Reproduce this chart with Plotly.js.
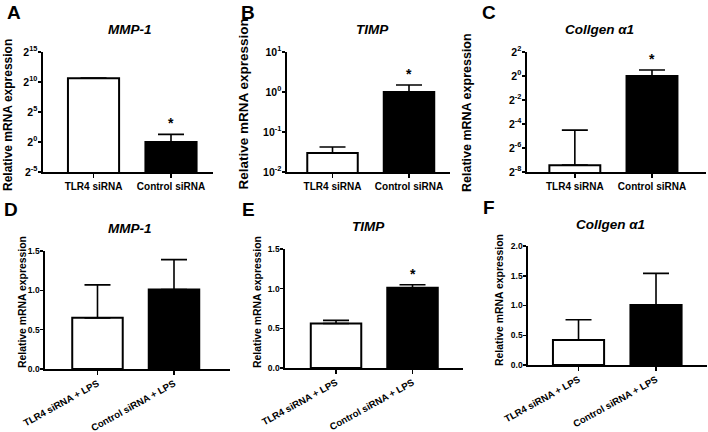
<!DOCTYPE html>
<html>
<head>
<meta charset="utf-8">
<script src="https://cdn.plot.ly/plotly-3.0.1.min.js"></script>
<style>html,body{margin:0;padding:0;background:#fff;}#chart{width:708px;height:432px;}</style>
</head>
<body>
<div id="chart"></div>
<script>
// ---- data ----
const catsTop = ['TLR4 siRNA', 'Control siRNA'];
const catsBottom = ['TLR4 siRNA + LPS', 'Control siRNA + LPS'];
const barColors = ['white', 'black'];

const mmp1Si = [1600, 1.0];
const mmp1SiErr = [0, 1.4];
const timpSi = [0.03, 1.0];
const timpSiErr = [0.012, 0.5];
const colSi = [0.0058, 1.0];
const colSiErr = [0.038, 0.41];

const mmp1Lps = [0.65, 1.01];
const mmp1LpsErr = [0.42, 0.38];
const timpLps = [0.56, 1.01];
const timpLpsErr = [0.04, 0.04];
const colLps = [0.42, 1.01];
const colLpsErr = [0.34, 0.53];

const starsA = ['', '*'];
const starsB = ['', '*'];
const starsC = ['', '*'];
const starsD = ['', ''];
const starsE = ['', '*'];
const starsF = ['', ''];

const expA = [-5, 0, 5, 10, 15];
const expB = [-2, -1, 0, 1];
const expC = [-8, -6, -4, -2, 0, 2];
const linTicks = [0, 0.5, 1.0, 1.5];
const linTicksF = [0, 0.5, 1.0, 1.5, 2.0];

const titles = ['MMP-1', 'TIMP', 'Collgen α1', 'MMP-1', 'TIMP', 'Collgen α1'];
const letters = ['A', 'B', 'C', 'D', 'E', 'F'];
const yTitle = 'Relative mRNA expression';

// ---- layout helpers ----
const W = 708, H = 432;
const px = v => v / W;
const py = v => 1 - v / H;
const FONT = 'Liberation Sans, Arial, sans-serif';

const panels = [
  {x: catsTop, y: mmp1Si, e: mmp1SiErr, stars: starsA, log: true, dom: [43, 213, 52, 172], xr: [-0.652, 1.542],
   yr: [Math.log10(Math.pow(2, -5)), Math.log10(Math.pow(2, 15))],
   tv: expA.map(e => Math.pow(2, e)), tt: expA.map(e => '2<sup>' + e + '</sup>'),
   tf: 10.5, xf: 10, angle: 0, ytx: 8, yty: 115, ytf: 12, tix: 130, tiy: 29, lx: 14, ly: 12},
  {x: catsTop, y: timpSi, e: timpSiErr, stars: starsB, log: true, dom: [287, 450, 52, 172], xr: [-0.595, 1.536],
   yr: [-2, 1],
   tv: expB.map(e => Math.pow(10, e)), tt: expB.map(e => '10<sup>' + e + '</sup>'),
   tf: 10.5, xf: 10, angle: 0, ytx: 243.5, yty: 104, ytf: 13.5, tix: 372, tiy: 29, lx: 248, ly: 12},
  {x: catsTop, y: colSi, e: colSiErr, stars: starsC, log: true, dom: [527, 706, 52, 172], xr: [-0.62, 1.70],
   yr: [Math.log10(Math.pow(2, -8)), Math.log10(Math.pow(2, 2))],
   tv: expC.map(e => Math.pow(2, e)), tt: expC.map(e => '2<sup>' + e + '</sup>'),
   tf: 10.5, xf: 10, angle: 0, ytx: 467, yty: 112, ytf: 12.5, tix: 599, tiy: 29, lx: 489, ly: 13},
  {x: catsBottom, y: mmp1Lps, e: mmp1LpsErr, stars: starsD, log: false, dom: [45, 230, 251, 369], xr: [-0.686, 1.732],
   yr: [0, 1.5], tv: linTicks, tt: linTicks.map(v => v.toFixed(1)),
   tf: 8.5, xf: 9.6, angle: -29, ytx: 22, yty: 302, ytf: 10.4, tix: 130, tiy: 228, lx: 11, ly: 209},
  {x: catsBottom, y: timpLps, e: timpLpsErr, stars: starsE, log: false, dom: [285, 463, 249, 368], xr: [-0.667, 1.66],
   yr: [0, 1.5], tv: linTicks, tt: linTicks.map(v => v.toFixed(1)),
   tf: 8.5, xf: 9.6, angle: -29, ytx: 257, yty: 302, ytf: 10.4, tix: 368, tiy: 227, lx: 248, ly: 209},
  {x: catsBottom, y: colLps, e: colLpsErr, stars: starsF, log: false, dom: [528, 707, 246, 365], xr: [-0.652, 1.658],
   yr: [0, 2.0], tv: linTicksF, tt: linTicksF.map(v => v.toFixed(1)),
   tf: 8.5, xf: 9.6, angle: -29, ytx: 499, yty: 300, ytf: 10.4, tix: 610, tiy: 224, lx: 489, ly: 208}
];

const data = [];
const layout = {
  width: W, height: H, margin: {l: 0, r: 0, t: 0, b: 0},
  paper_bgcolor: 'white', plot_bgcolor: 'white', showlegend: false,
  font: {family: FONT, color: 'black'},
  annotations: [], bargap: 0
};

panels.forEach((p, i) => {
  const n = i + 1;
  const xa = 'x' + (n === 1 ? '' : n), ya = 'y' + (n === 1 ? '' : n);
  const xk = 'xaxis' + (n === 1 ? '' : n), yk = 'yaxis' + (n === 1 ? '' : n);
  data.push({
    type: 'bar', x: p.x, y: p.y, xaxis: xa, yaxis: ya, width: 0.66,
    marker: {color: barColors, line: {color: 'black', width: 2}},
    error_y: {type: 'data', symmetric: false, array: p.e, arrayminus: p.x.map(() => 0),
              color: 'black', thickness: 1.6, width: 13},
    hoverinfo: 'none'
  });
  layout[xk] = {
    domain: [px(p.dom[0]), px(p.dom[1])], anchor: ya, type: 'category', range: p.xr,
    showline: true, linecolor: 'black', linewidth: 1.6, ticks: 'outside', ticklen: 4, tickwidth: 1.5,
    tickcolor: 'black', showgrid: false, zeroline: false, tickangle: p.angle,
    tickfont: {family: FONT, size: p.xf, weight: 'bold', color: 'black'}, fixedrange: true
  };
  layout[yk] = {
    domain: [py(p.dom[3]), py(p.dom[2])], anchor: xa, type: p.log ? 'log' : 'linear', range: p.yr,
    showline: true, linecolor: 'black', linewidth: 1.6, ticks: 'outside', ticklen: 3, tickwidth: 1.5,
    tickcolor: 'black', showgrid: false, zeroline: false, ticklabelstandoff: -1,
    tickmode: 'array', tickvals: p.tv, ticktext: p.tt,
    tickfont: {family: FONT, size: p.tf, weight: 'bold', color: 'black'}, fixedrange: true
  };
  // significance stars
  p.stars.forEach((s, j) => {
    if (!s) return;
    const top = p.y[j] + p.e[j];
    layout.annotations.push({
      xref: xa, yref: ya, x: p.x[j], y: p.log ? Math.log10(top) : top,
      text: s, showarrow: false, yanchor: 'bottom', yshift: 1,
      font: {family: FONT, size: 14, weight: 'bold', color: 'black'}
    });
  });
  // panel title
  layout.annotations.push({
    xref: 'paper', yref: 'paper', x: px(p.tix), y: py(p.tiy), xanchor: 'center', yanchor: 'middle',
    text: titles[i], showarrow: false,
    font: {family: FONT, size: 13.5, weight: 'bold', style: 'italic', color: 'black'}
  });
  // y-axis title
  layout.annotations.push({
    xref: 'paper', yref: 'paper', x: px(p.ytx), y: py(p.yty), xanchor: 'center', yanchor: 'middle',
    text: yTitle, showarrow: false, textangle: -90,
    font: {family: FONT, size: p.ytf, weight: 'bold', color: 'black'}
  });
  // panel letter
  layout.annotations.push({
    xref: 'paper', yref: 'paper', x: px(p.lx), y: py(p.ly), xanchor: 'center', yanchor: 'middle',
    text: letters[i], showarrow: false,
    font: {family: FONT, size: 19, weight: 'bold', color: 'black'}
  });
});

Plotly.newPlot('chart', data, layout, {staticPlot: true, displayModeBar: false});
</script>
</body>
</html>
